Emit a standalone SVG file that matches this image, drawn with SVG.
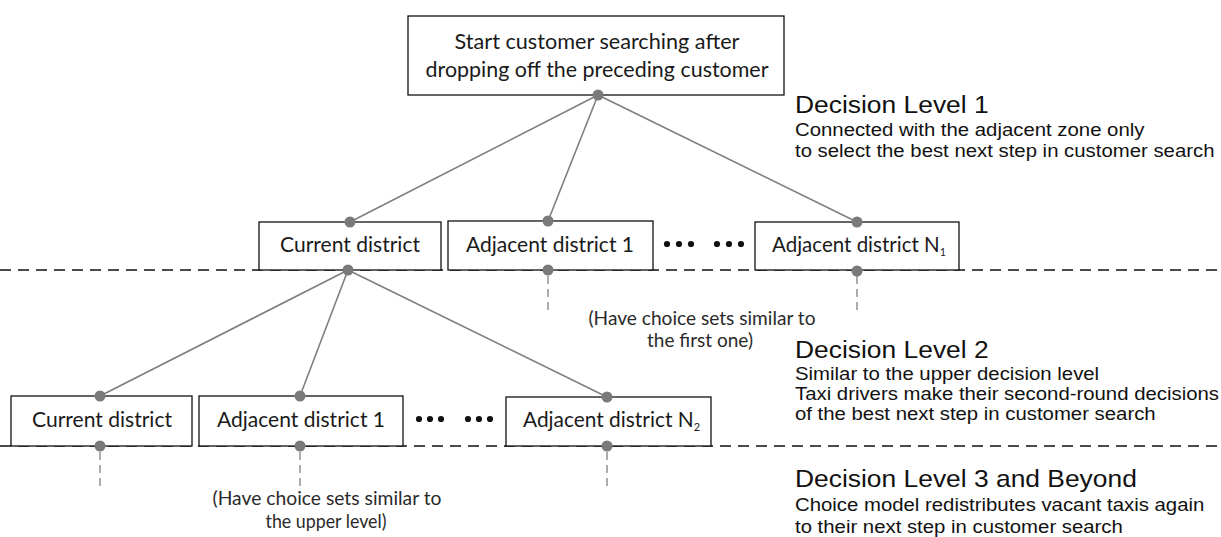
<svg xmlns="http://www.w3.org/2000/svg" width="1221" height="537" viewBox="0 0 1221 537">
<style>
.box{fill:#fff;stroke:#111;stroke-width:1.3}
.bt{font-family:Lato,"Open Sans",sans-serif;font-size:21px;fill:#1a1a1a;text-anchor:middle}
.bts{font-family:Lato,"Open Sans",sans-serif;font-size:21px;fill:#1a1a1a;text-anchor:start}
.sub{font-size:11px}
.top{font-size:22px}
.note{font-family:Lato,"Open Sans",sans-serif;font-size:19px;fill:#2a2a2a;text-anchor:middle}
.edge{stroke:#7f7f7f;stroke-width:1.6;fill:none}
.vd{stroke:#8a8a8a;stroke-width:1.4;stroke-dasharray:8 5;fill:none}
.sep{stroke:#111;stroke-width:1.6;stroke-dasharray:11 7;fill:none}
.dot{fill:#7a7a7a}
.ell{fill:#111}
.hd{font-family:"Liberation Sans",Arial,sans-serif;font-size:24px;fill:#111}
.bd{font-family:"Liberation Sans",Arial,sans-serif;font-size:18.5px;fill:#111}
</style>
<rect width="1221" height="537" fill="#fff"/>

<g id="separators">
<line class="sep" x1="0" y1="270" x2="1221" y2="270"/>
<line class="sep" x1="0" y1="446" x2="1221" y2="446"/>
</g>

<g id="root">
<rect class="box" x="408" y="16" width="376" height="79"/>
<text class="bt top" x="597" y="49" textLength="285" lengthAdjust="spacingAndGlyphs">Start customer searching after</text>
<text class="bt top" x="597" y="77" textLength="343" lengthAdjust="spacingAndGlyphs">dropping off the preceding customer</text>
</g>

<g id="l1-current">
<rect class="box" x="259" y="222" width="182" height="48"/>
<text class="bt" x="350" y="252" textLength="140" lengthAdjust="spacingAndGlyphs">Current district</text>
</g>
<g id="l1-adj1">
<rect class="box" x="448" y="221" width="205" height="49"/>
<text class="bt" x="550" y="252" textLength="168" lengthAdjust="spacingAndGlyphs">Adjacent district 1</text>
</g>
<g id="l1-ellipsis">
<circle class="ell" cx="667" cy="244" r="3.1"/><circle class="ell" cx="679" cy="244" r="3.1"/><circle class="ell" cx="691" cy="244" r="3.1"/>
<circle class="ell" cx="717" cy="244" r="3.1"/><circle class="ell" cx="729" cy="244" r="3.1"/><circle class="ell" cx="741" cy="244" r="3.1"/>
</g>
<g id="l1-adjN1">
<rect class="box" x="755" y="222" width="204" height="48"/>
<text class="bts" x="772" y="252" textLength="174" lengthAdjust="spacingAndGlyphs">Adjacent district N<tspan class="sub" dy="4">1</tspan></text>
</g>

<g id="l2-current">
<rect class="box" x="11" y="396" width="181" height="50"/>
<text class="bt" x="102" y="427" textLength="140" lengthAdjust="spacingAndGlyphs">Current district</text>
</g>
<g id="l2-adj1">
<rect class="box" x="199" y="396" width="204" height="50"/>
<text class="bt" x="301" y="427" textLength="168" lengthAdjust="spacingAndGlyphs">Adjacent district 1</text>
</g>
<g id="l2-ellipsis">
<circle class="ell" cx="419" cy="419" r="3.1"/><circle class="ell" cx="430" cy="419" r="3.1"/><circle class="ell" cx="441" cy="419" r="3.1"/>
<circle class="ell" cx="468" cy="419" r="3.1"/><circle class="ell" cx="479" cy="419" r="3.1"/><circle class="ell" cx="490" cy="419" r="3.1"/>
</g>
<g id="l2-adjN2">
<rect class="box" x="506" y="397" width="205" height="49"/>
<text class="bts" x="523" y="427" textLength="177" lengthAdjust="spacingAndGlyphs">Adjacent district N<tspan class="sub" dy="4">2</tspan></text>
</g>

<g id="connectors">
<line class="edge" x1="598" y1="95" x2="350" y2="222"/>
<line class="edge" x1="598" y1="95" x2="548" y2="221"/>
<line class="edge" x1="598" y1="95" x2="857" y2="222"/>
<line class="edge" x1="348" y1="270" x2="100" y2="396"/>
<line class="edge" x1="348" y1="270" x2="300" y2="396"/>
<line class="edge" x1="348" y1="270" x2="607" y2="397"/>
<line class="vd" x1="548" y1="276" x2="548" y2="313"/>
<line class="vd" x1="857" y1="276" x2="857" y2="313"/>
<line class="vd" x1="100" y1="452" x2="100" y2="489"/>
<line class="vd" x1="300" y1="452" x2="300" y2="489"/>
<line class="vd" x1="607" y1="452" x2="607" y2="489"/>
<circle class="dot" cx="598" cy="95" r="5.5"/>
<circle class="dot" cx="350" cy="222" r="5.5"/>
<circle class="dot" cx="548" cy="221" r="5.5"/>
<circle class="dot" cx="857" cy="222" r="5.5"/>
<circle class="dot" cx="348" cy="270" r="5.5"/>
<circle class="dot" cx="548" cy="270" r="5.5"/>
<circle class="dot" cx="857" cy="271" r="5.5"/>
<circle class="dot" cx="100" cy="396" r="5.5"/>
<circle class="dot" cx="300" cy="396" r="5.5"/>
<circle class="dot" cx="607" cy="397" r="5.5"/>
<circle class="dot" cx="100" cy="446" r="5.5"/>
<circle class="dot" cx="300" cy="446" r="5.5"/>
<circle class="dot" cx="607" cy="446" r="5.5"/>
</g>

<g id="notes">
<text class="note" x="702" y="325" textLength="227" lengthAdjust="spacingAndGlyphs">(Have choice sets similar to</text>
<text class="note" x="700" y="347" textLength="106" lengthAdjust="spacingAndGlyphs">the first one)</text>
<text class="note" x="327" y="505" textLength="229" lengthAdjust="spacingAndGlyphs">(Have choice sets similar to</text>
<text class="note" x="326" y="528" textLength="121" lengthAdjust="spacingAndGlyphs">the upper level)</text>
</g>

<g id="level-labels" transform="translate(795 0) scale(1.1 1)">
<text class="hd" x="0" y="113">Decision Level 1</text>
<text class="bd" x="0" y="136">Connected with the adjacent zone only</text>
<text class="bd" x="0" y="157">to select the best next step in customer search</text>
<text class="hd" x="0" y="358">Decision Level 2</text>
<text class="bd" x="0" y="380">Similar to the upper decision level</text>
<text class="bd" x="0" y="400">Taxi drivers make their second-round decisions</text>
<text class="bd" x="0" y="420">of the best next step in customer search</text>
<text class="hd" x="0" y="487">Decision Level 3 and Beyond</text>
<text class="bd" x="0" y="511">Choice model redistributes vacant taxis again</text>
<text class="bd" x="0" y="533">to their next step in customer search</text>
</g>
</svg>
